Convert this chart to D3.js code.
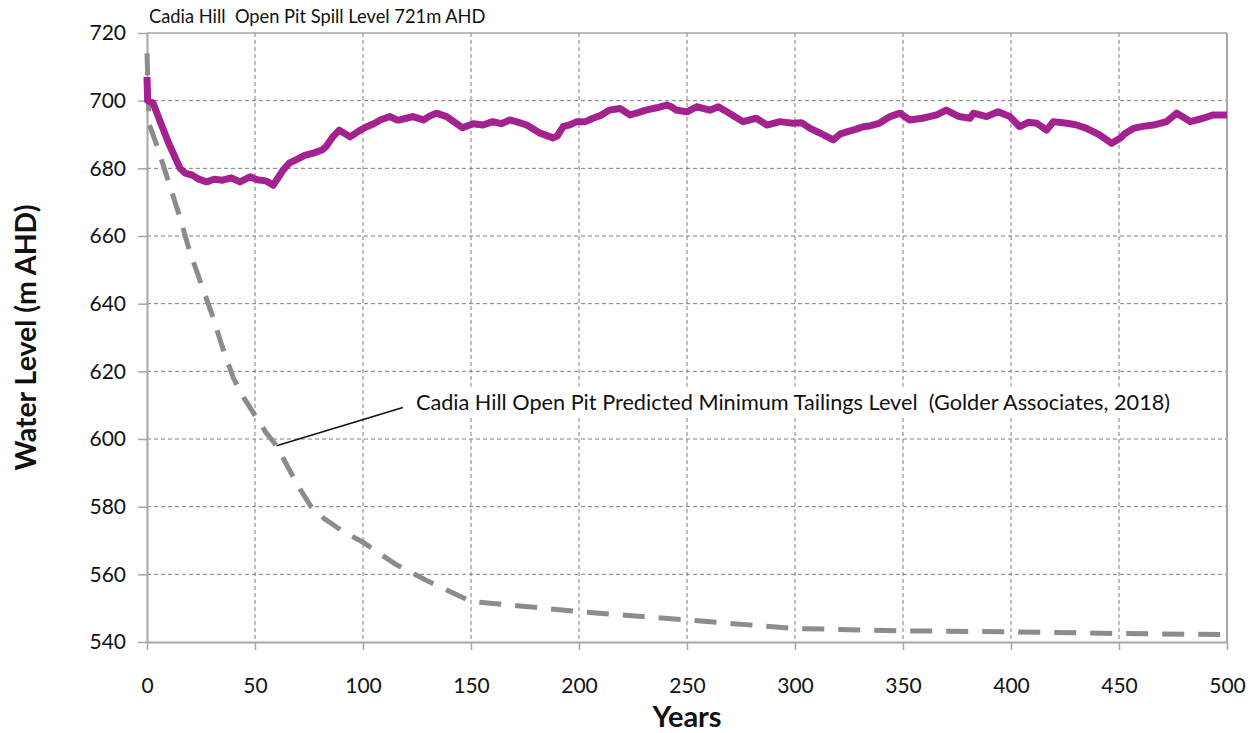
<!DOCTYPE html>
<html><head><meta charset="utf-8">
<script src="https://cdn.jsdelivr.net/npm/d3@7/dist/d3.min.js"></script>
<style>body{margin:0;background:#fff;} svg{display:block;}</style>
</head><body><svg id="c" width="1258" height="733"></svg>
<script>
const xTicks = [0,50,100,150,200,250,300,350,400,450,500];
const yTicks = [540,560,580,600,620,640,660,680,700,720];
const titleText = "Cadia Hill  Open Pit Spill Level 721m AHD";
const annotText = "Cadia Hill Open Pit Predicted Minimum Tailings Level  (Golder Associates, 2018)";
const annotAnchor = [60, 598];
const xTitle = "Years";
const yTitle = "Water Level (m AHD)";

// Simulated water level (purple)
const waterYears = [0,0.3,2.8,6,10,15.3,17.6,21,24,27.6,31,35,39,43,47.7,51,55,58.4,61,63,66,69,73,77,81,83,86,89,94,98,101.7,105,108,112.5,115.6,117,120,123,128,131,134,138.7,142,146,151,155.6,160,164,168,172,175.8,182,188,190,192.6,196,199,203,206.5,210,214,219,223.6,227,231,236,240.6,243,245,250,254.5,260.6,264.5,268,272,276,282,287,293,299,303,307,312,317.7,321,324,328,331.6,335,339,344,348.6,353,359,365.6,370,376,381,382.6,388.7,394,399.5,404,408,412,416.5,419.6,425.8,430,435,441,446.6,450.5,453,456.6,461,465.9,472,476.7,480,483,489,493.7,500];
const waterLevel = [707,700,699.3,694,687.5,680,678.6,678,676.8,676,676.8,676.5,677.2,676,677.5,676.6,676.3,675,677.5,679.5,681.6,682.5,683.8,684.5,685.4,686.5,689.3,691.3,689.3,691,692.3,693.2,694.3,695.3,694.3,694.3,694.8,695.3,694.3,695.5,696.3,695.3,693.8,692,693.2,692.8,693.8,693.2,694.3,693.6,692.8,690.4,689,689.6,692.3,692.9,693.8,693.8,694.8,695.6,697.2,697.7,695.8,696.4,697.2,697.9,698.7,698.1,697.2,696.7,698.2,697.2,698.2,696.9,695.3,693.8,694.8,692.8,693.8,693.3,693.5,691.8,690.3,688.4,690.2,690.8,691.5,692.3,692.6,693.3,695.3,696.3,694.3,694.8,695.8,697.2,695.3,694.8,696.3,695.3,696.7,695.3,692.3,693.6,693.3,691.3,693.8,693.3,692.9,691.8,689.9,687.4,688.9,690.4,691.8,692.4,692.8,693.8,696.3,695,693.8,694.8,695.8,695.8];

// Predicted minimum tailings level (grey dashed)
const tailYears = [0,1,5,10,15,20,25,30,35,40,45,50,55,60,65,70,76,82,90,100,115,130,150,175,200,250,300,350,400,450,500];
const tailLevel = [714,693,686,676,666,655,646,637,627,618,612,607,602,598,592,586,580,576.5,573,569.5,563,558,552,550.5,549,546.5,544,543.3,543,542.5,542.2];

const svg = d3.select("#c");
const x = d3.scaleLinear().domain([0,500]).range([147,1227]);
const y = d3.scaleLinear().domain([540,720]).range([642,33]);
const font = "Lato, 'Liberation Sans', sans-serif";

// gridlines
const g = svg.append("g");
g.selectAll("line.vg").data(xTicks.slice(1,-1)).join("line")
  .attr("x1",d=>x(d)).attr("x2",d=>x(d)).attr("y1",y(720)).attr("y2",y(540))
  .attr("stroke","#7f7f7f").attr("stroke-width",1).attr("stroke-dasharray","4,3");
g.selectAll("line.hg").data(yTicks.slice(1,-1)).join("line")
  .attr("x1",x(0)).attr("x2",x(500)).attr("y1",d=>y(d)).attr("y2",d=>y(d))
  .attr("stroke","#7f7f7f").attr("stroke-width",1).attr("stroke-dasharray","4,3");
// frame top/right
svg.append("line").attr("x1",x(0)).attr("x2",x(500)).attr("y1",y(720)).attr("y2",y(720)).attr("stroke","#a6a6a6").attr("stroke-width",1.5);
svg.append("line").attr("x1",x(500)).attr("x2",x(500)).attr("y1",y(720)).attr("y2",y(540)).attr("stroke","#a6a6a6").attr("stroke-width",2);

// axes
const xa = svg.append("g").attr("transform",`translate(0,${y(540)})`)
  .call(d3.axisBottom(x).tickValues(xTicks).tickSize(8).tickPadding(28).tickSizeOuter(0));
const ya = svg.append("g").attr("transform",`translate(${x(0)},0)`)
  .call(d3.axisLeft(y).tickValues(yTicks).tickSize(9).tickPadding(12).tickSizeOuter(0));
[xa,ya].forEach(a=>{
  a.select(".domain").attr("stroke","#a6a6a6").attr("stroke-width",2);
  a.selectAll(".tick line").attr("stroke","#a6a6a6").attr("stroke-width",1.5);
  a.selectAll(".tick text").attr("fill","#111").style("font-family",font).style("font-size","21px");
});

// annotation (white box behind text)
const ax = x(annotAnchor[0]), ay = y(annotAnchor[1]);
const tx = x(124.5), ty = y(608.7);
const annotG = svg.append("g");
const at = annotG.append("text").attr("x",tx).attr("y",ty).text(annotText)
  .style("white-space","pre").attr("xml:space","preserve")
  .style("font-family",font).style("font-size","21.7px").attr("fill","#111");
const bb = at.node().getBBox();
annotG.insert("rect", () => at.node()).attr("x",bb.x-6).attr("y",bb.y-2).attr("width",bb.width+12).attr("height",bb.height+4).attr("fill","#fff");

// tailings dashed line
svg.append("path").datum(tailYears.map((d,i)=>[d,tailLevel[i]]))
  .attr("d",d3.line().x(d=>x(d[0])).y(d=>y(d[1])))
  .attr("fill","none").attr("stroke","#8c8c8c").attr("stroke-width",5)
  .attr("stroke-dasharray","22,14").attr("stroke-linecap","butt");

// water line
svg.append("path").datum(waterYears.map((d,i)=>[d,waterLevel[i]]))
  .attr("d",d3.line().x(d=>x(d[0])).y(d=>y(d[1])))
  .attr("fill","none").attr("stroke","#a4228f").attr("stroke-width",7)
  .attr("stroke-linejoin","round").attr("stroke-linecap","butt");

svg.append("line").attr("x1",ax).attr("y1",ay).attr("x2",tx-13).attr("y2",ty-2)
  .attr("stroke","#111").attr("stroke-width",1.5);

// title
svg.append("text").attr("x",x(0)+2).attr("y",23).text(titleText)
  .style("white-space","pre").attr("xml:space","preserve")
  .style("font-family",font).style("font-size","18.3px").attr("fill","#111");

// axis titles
svg.append("text").attr("x",(x(0)+x(500))/2).attr("y",727).attr("text-anchor","middle").text(xTitle)
  .style("font-family",font).style("font-size","29px").style("font-weight","bold").attr("fill","#111");
svg.append("text").attr("transform",`translate(36,${(y(540)+y(720))/2}) rotate(-90)`).attr("text-anchor","middle").text(yTitle)
  .style("font-family",font).style("font-size","28.5px").style("font-weight","bold").attr("fill","#111");
</script></body></html>
